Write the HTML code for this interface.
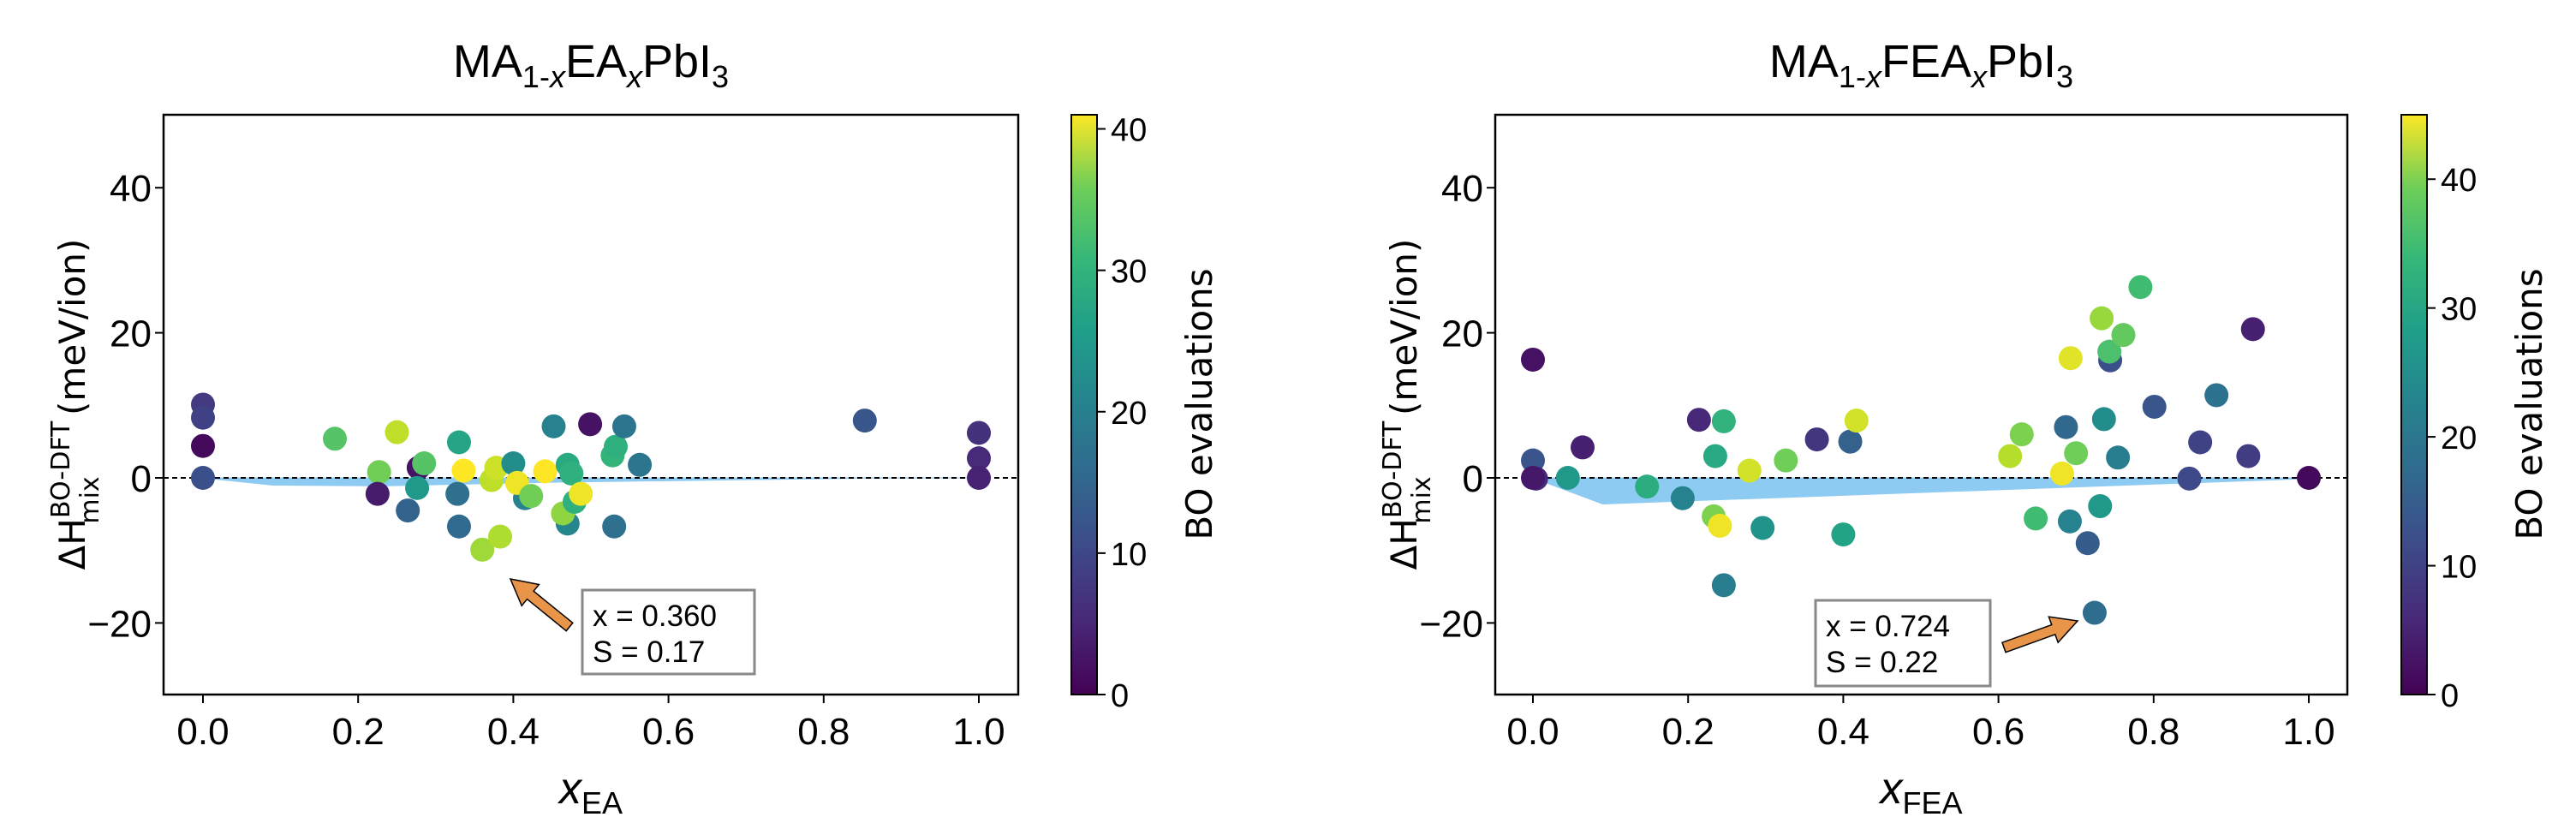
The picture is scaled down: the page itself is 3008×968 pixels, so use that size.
<!DOCTYPE html>
<html><head><meta charset="utf-8"><style>
html,body{margin:0;padding:0;background:#fff;}
svg{display:block;font-family:"Liberation Sans",sans-serif;}
</style></head><body>
<svg id="chart" width="3008" height="968" viewBox="0 0 3008 968" xmlns="http://www.w3.org/2000/svg">
<defs>
<linearGradient id="vir" x1="0" y1="1" x2="0" y2="0">
<stop offset="0" stop-color="#440154"/><stop offset="0.125" stop-color="#482878"/><stop offset="0.25" stop-color="#3e4989"/><stop offset="0.375" stop-color="#31688e"/><stop offset="0.5" stop-color="#26828e"/><stop offset="0.625" stop-color="#1f9e89"/><stop offset="0.75" stop-color="#35b779"/><stop offset="0.875" stop-color="#6ece58"/><stop offset="1" stop-color="#fde725"/>
</linearGradient>
</defs>
</svg>
<script>
// ---- Left panel data (MA1-xEAxPbI3) ----
const leftX = [0,0,0,0,0.17,0.25,0.227,0.225,0.264,0.278,0.285,0.276,0.33,0.328,0.33,0.336,0.36,0.383,0.372,0.378,0.4,0.415,0.405,0.423,0.441,0.452,0.47,0.475,0.47,0.464,0.479,0.487,0.499,0.528,0.532,0.543,0.563,0.53,0.853,1,1,1];
const leftY = [10.1,8.3,4.4,0,5.4,6.3,0.8,-2.2,-4.5,1.4,2.0,-1.4,4.9,-2.2,-6.7,1.0,-9.9,-8.1,-0.3,1.4,2.0,-2.8,-0.7,-2.5,0.9,7.1,1.8,0.6,-6.3,-4.9,-3.3,-2.2,7.4,3.1,4.3,7.1,1.8,-6.7,7.9,6.2,2.7,0];
const leftC = [7,8,1,10,30,37,32,3,13,2,30,22,24,15,14,41,35,36,37,38,20,18,40,32,41,18,25,26,19,34,26,40,2,27,26,16,16,15,11,6,5,4];
const leftHullX = [0,0.09,0.23,0.45,0.85,1];
const leftHullY = [0,-1.0,-1.1,-0.6,-0.05,0];
// ---- Right panel data (MA1-xFEAxPbI3) ----
const rightX = [0,0,0.004,0,0.045,0.064,0.147,0.193,0.214,0.246,0.235,0.233,0.241,0.246,0.279,0.296,0.326,0.366,0.409,0.417,0.4,0.615,0.63,0.648,0.682,0.693,0.687,0.7,0.692,0.715,0.724,0.731,0.733,0.736,0.744,0.743,0.754,0.761,0.783,0.801,0.846,0.86,0.881,0.922,0.928,1];
const rightY = [16.3,2.4,-0.1,0,0,4.2,-1.2,-2.8,8.0,7.8,3.0,-5.3,-6.6,-14.8,1.0,-6.9,2.4,5.3,5.0,7.9,-7.8,3.0,6.0,-5.6,0.6,16.5,7.0,3.4,-6.0,-9.0,-18.6,-3.9,22.0,8.1,16.2,17.4,2.8,19.7,26.3,9.8,-0.1,4.9,11.4,3.0,20.5,0];
const rightC = [2,12,5,3,24,4,28,20,5,29,27,36,44,19,42,23,35,7,14,42,26,40,36,31,44,43,15,35,20,13,16,24,38,22,11,32,19,34,31,12,10,9,17,8,4,1];
const rightHullX = [0,0.09,1];
const rightHullY = [0,-3.6,-0.1];
const xTicks = [0,0.2,0.4,0.6,0.8,1.0];
const xTickLabels = ["0.0","0.2","0.4","0.6","0.8","1.0"];
const yTicks = [-20,0,20,40];
const yTickLabels = ["\u221220","0","20","40"];
const leftCbTicks = [0,10,20,30,40];
const rightCbTicks = [0,10,20,30,40];

const NS = "http://www.w3.org/2000/svg";
const svg = document.getElementById('chart');
const VIR = [[68,1,84],[72,40,120],[62,73,137],[49,104,142],[38,130,142],[31,158,137],[53,183,121],[110,206,88],[181,222,43],[253,231,37]];
function viridis(t){t=Math.max(0,Math.min(1,t));const p=t*(VIR.length-1);const i=Math.min(VIR.length-2,Math.floor(p));const f=p-i;const a=VIR[i],b=VIR[i+1];return 'rgb('+a.map((v,k)=>Math.round(v+(b[k]-v)*f)).join(',')+')';}
function mk(tag, attrs, parent){const e=document.createElementNS(NS,tag);for(const k in attrs)e.setAttribute(k,attrs[k]);(parent||svg).appendChild(e);return e;}

function panel(o){
  const g = mk('g',{});
  
  
  const L=o.left,R=o.right,T=134,B=811;
  const sx = v => o.x0 + 906*v;
  const sy = v => 558 - 8.47*v;
  let pts = o.hx.map((v,i)=>sx(v)+','+sy(o.hy[i])).join(' ');
  pts += ' '+sx(1)+','+sy(0)+' '+sx(0)+','+sy(0);
  const hull = mk('polygon',{points:pts,fill:'#8ecbf2',stroke:'#8ecbf2','stroke-width':1},g);
  
  
  const zl = mk('line',{x1:L,x2:R,y1:sy(0),y2:sy(0),stroke:'#000','stroke-width':2,'stroke-dasharray':'6,4'},g);
  
  
  o.px.forEach((v,i)=>{
    const c = mk('circle',{cx:sx(v),cy:sy(o.py[i]),r:14,fill:viridis(o.pc[i]/o.vmax)},g);
    
    
  });
  const frame = mk('rect',{x:L,y:T,width:R-L,height:B-T,fill:'none',stroke:'#000','stroke-width':2.5},g);
  
  
  xTicks.forEach((v,i)=>{
    mk('line',{x1:sx(v),x2:sx(v),y1:B,y2:B+10,stroke:'#000','stroke-width':2},g);
    const t = mk('text',{x:sx(v),y:B+58,'font-size':44,'text-anchor':'middle'},g);
    t.textContent = xTickLabels[i];
    
    
  });
  yTicks.forEach((v,i)=>{
    mk('line',{x1:L-10,x2:L,y1:sy(v),y2:sy(v),stroke:'#000','stroke-width':2},g);
    const t = mk('text',{x:L-14,y:sy(v)+16,'font-size':44,'text-anchor':'end'},g);
    t.textContent = yTickLabels[i];
    
    
  });
  const xl = mk('text',{x:(L+R)/2,y:938,'font-size':52,'text-anchor':'middle'},g);
  xl.innerHTML = '<tspan font-style="italic">x</tspan><tspan font-size="36" dy="12">'+o.sub+'</tspan>';
  
  
  const yl = mk('text',{transform:'translate('+(L-92)+',472) rotate(-90)','font-family':'DejaVu Sans, sans-serif','font-size':42,'text-anchor':'middle'},g);
  yl.innerHTML = '\u0394H<tspan font-size="30" dy="-18">BO-DFT</tspan><tspan font-size="30" dx="-120" dy="34">mix</tspan><tspan dy="-16" dx="58">  (meV/ion)</tspan>';
  
  
  const ti = mk('text',{x:(L+R)/2,y:90,'font-size':54,'text-anchor':'middle'},g);
  ti.innerHTML = 'MA<tspan font-size="36" dy="12">1-<tspan font-style="italic">x</tspan></tspan><tspan dy="-12">'+o.sub+'</tspan><tspan font-size="36" dy="12" font-style="italic">x</tspan><tspan dy="-12">PbI</tspan><tspan font-size="36" dy="12">3</tspan>';
  
  
  const bx = mk('rect',{x:o.box[0],y:o.box[1],width:o.box[2],height:o.box[3],fill:'#fff',stroke:'#888','stroke-width':3},g);
  
  
  const a1 = mk('text',{x:o.box[0]+12,y:o.box[1]+42,'font-size':35},g);
  a1.textContent = o.ann[0];
  
  
  const a2 = mk('text',{x:o.box[0]+12,y:o.box[1]+84,'font-size':35},g);
  a2.textContent = o.ann[1];
  
  
  const [x1,y1,x2,y2]=o.arrow; const dx=x2-x1,dy=y2-y1,len=Math.hypot(dx,dy),ux=dx/len,uy=dy/len,nx=-uy,ny=ux;
  const hl=30,hw=16,sw=6; const bxp=x2-ux*hl, byp=y2-uy*hl;
  const ap=[[x1+nx*sw,y1+ny*sw],[bxp+nx*sw,byp+ny*sw],[bxp+nx*hw,byp+ny*hw],[x2,y2],[bxp-nx*hw,byp-ny*hw],[bxp-nx*sw,byp-ny*sw],[x1-nx*sw,y1-ny*sw]].map(p=>p.join(',')).join(' ');
  const ar = mk('polygon',{points:ap,fill:'#e8954a',stroke:'#000','stroke-width':1.5},g);
  
  
  const cb = mk('rect',{x:o.cb,y:T,width:30,height:B-T,fill:'url(#vir)',stroke:'#000','stroke-width':2},g);
  
  
  o.cbt.forEach(v=>{
    const y = B-(B-T)*v/o.vmax;
    mk('line',{x1:o.cb+30,x2:o.cb+40,y1:y,y2:y,stroke:'#000','stroke-width':2},g);
    const t = mk('text',{x:o.cb+46,y:y+14,'font-size':38},g);
    t.textContent = v;
    
    
  });
  const cl = mk('text',{transform:'translate('+(o.cb+164)+',472) rotate(-90)','font-family':'DejaVu Sans, sans-serif','font-size':42,'text-anchor':'middle'},g);
  cl.textContent = 'BO evaluations';
  
  
}
panel({name:'left',left:191,right:1189,x0:237,px:leftX,py:leftY,pc:leftC,hx:leftHullX,hy:leftHullY,vmax:41,cb:1251,cbt:leftCbTicks,sub:'EA',box:[680,689,201,98],ann:['x = 0.360','S = 0.17'],arrow:[665,732,596,676]});
panel({name:'right',left:1746,right:2741,x0:1790,px:rightX,py:rightY,pc:rightC,hx:rightHullX,hy:rightHullY,vmax:45,cb:2804,cbt:rightCbTicks,sub:'FEA',box:[2120,701,204,100],ann:['x = 0.724','S = 0.22'],arrow:[2340,756,2426,725]});
</script>
</body></html>
